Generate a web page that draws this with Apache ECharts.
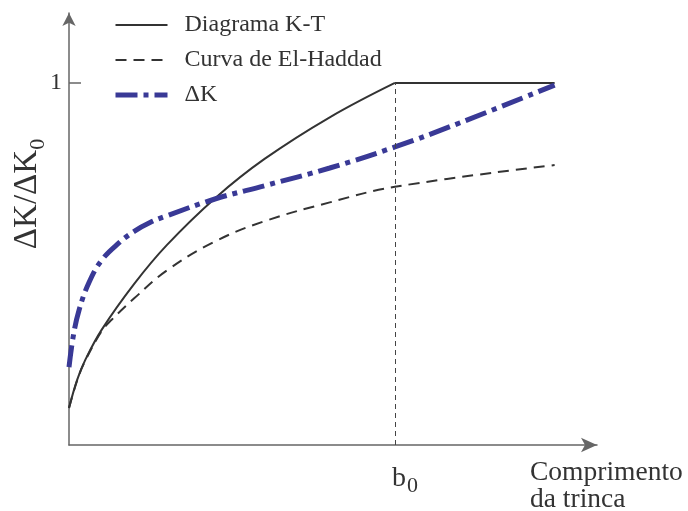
<!DOCTYPE html>
<html>
<head>
<meta charset="utf-8">
<script src="https://cdn.jsdelivr.net/npm/echarts@6/dist/echarts.min.js"></script>
<style>
  html, body { margin: 0; padding: 0; background: #fff; }
  #chart { width: 688px; height: 511px; }
</style>
</head>
<body>
<div id="chart"></div>
<script>
// dados (x em unidades de b0, y em ΔK/ΔK0)
var ktX = [0, 0.025, 0.05, 0.1, 0.2, 0.3, 0.45, 0.6, 0.8, 1.0];
var ktY = [0.102, 0.180, 0.235, 0.318, 0.445, 0.552, 0.683, 0.790, 0.905, 1.0];
var ktFlatX = [1.0, 1.49];
var ktFlatY = [1.0, 1.0];

var elX = [0, 0.025, 0.05, 0.1, 0.13, 0.2, 0.3, 0.45, 0.6, 0.8, 1.0, 1.49];
var elY = [0.102, 0.178, 0.233, 0.314, 0.345, 0.405, 0.482, 0.563, 0.618, 0.670, 0.713, 0.773];

var dkX = [0, 0.013, 0.031, 0.061, 0.1, 0.153, 0.2, 0.25, 0.3, 0.45, 0.6, 0.8, 1.0, 1.2, 1.49];
var dkY = [0.215, 0.300, 0.373, 0.448, 0.510, 0.558, 0.590, 0.615, 0.633, 0.680, 0.716, 0.765, 0.823, 0.890, 0.994];

var b0 = 1;
var yTicks = [1];

function pares(xs, ys) {
    return xs.map(function (x, i) { return [x, ys[i]]; });
}

var serif = 'Liberation Serif';
var myChart = echarts.init(document.getElementById('chart'));

var option = {
    animation: false,
    textStyle: { fontFamily: serif },
    grid: { left: 69, right: 91, top: 13, bottom: 66 },
    legend: {
        orient: 'vertical',
        left: 113,
        top: 13,
        padding: 0,
        itemWidth: 52,
        itemHeight: 14,
        itemGap: 11,
        data: ['Diagrama K-T', 'Curva de El-Haddad', 'ΔK'],
        itemStyle: { opacity: 0 },
        lineStyle: { width: 'inherit' },
        textStyle: { fontFamily: serif, fontSize: 24, color: '#333', padding: [0, 0, 0, 12] }
    },
    xAxis: {
        type: 'value',
        min: 0,
        max: 1.62,
        splitLine: { show: false },
        axisLine: {
            lineStyle: { color: '#666', width: 1.5 },
            symbol: ['none', 'arrow'],
            symbolSize: [11, 16]
        },
        axisTick: { show: false },
        axisLabel: {
            customValues: [b0],
            margin: 20,
            formatter: function () { return '{b|b}{s|0}'; },
            rich: {
                b: { fontFamily: serif, fontSize: 28, color: '#333', verticalAlign: 'top', padding: [0, 0, 0, 20] },
                s: { fontFamily: serif, fontSize: 22, color: '#333', verticalAlign: 'top', padding: [10, 0, 0, 1] }
            }
        }
    },
    yAxis: {
        type: 'value',
        min: 0,
        max: 1.193,
        splitLine: { show: false },
        axisLine: {
            lineStyle: { color: '#666', width: 1.5 },
            symbol: ['none', 'arrow'],
            symbolSize: [10, 13]
        },
        axisTick: { show: true, inside: true, length: 12, customValues: yTicks, lineStyle: { color: '#666', width: 1.5 } },
        axisLabel: { customValues: yTicks, margin: 7, fontFamily: serif, fontSize: 24, color: '#333' }
    },
    graphic: [
        {
            type: 'text',
            x: 30,
            y: 194,
            rotation: Math.PI / 2,
            style: {
                text: '{a|ΔK/ΔK}{s|0}',
                align: 'center',
                verticalAlign: 'middle',
                rich: {
                    a: { fontFamily: serif, fontSize: 33, fill: '#333', verticalAlign: 'top' },
                    s: { fontFamily: serif, fontSize: 22, fill: '#333', verticalAlign: 'top', padding: [16, 0, 0, 0] }
                }
            }
        },
        {
            type: 'text',
            x: 530,
            y: 459,
            style: {
                text: 'Comprimento\nda trinca',
                fontFamily: serif,
                fontSize: 27.5,
                lineHeight: 27,
                fill: '#333'
            }
        }
    ],
    series: [
        {
            name: 'Diagrama K-T',
            type: 'line',
            smooth: 0.4,
            symbol: 'none',
            lineStyle: { color: '#333', width: 2, type: 'solid' },
            itemStyle: { color: '#333' },
            data: pares(ktX, ktY),
            markLine: {
                silent: true,
                symbol: 'none',
                label: { show: false },
                lineStyle: { color: '#444', width: 1, type: [5, 4] },
                data: [[{ coord: [b0, 0] }, { coord: [b0, 1] }]]
            }
        },
        {
            name: 'Diagrama K-T',
            type: 'line',
            symbol: 'none',
            lineStyle: { color: '#333', width: 2, type: 'solid' },
            itemStyle: { color: '#333' },
            data: pares(ktFlatX, ktFlatY)
        },
        {
            name: 'Curva de El-Haddad',
            type: 'line',
            smooth: 0.4,
            symbol: 'none',
            lineStyle: { color: '#333', width: 2, type: [11, 7] },
            itemStyle: { color: '#333' },
            data: pares(elX, elY)
        },
        {
            name: 'ΔK',
            type: 'line',
            smooth: 0.4,
            symbol: 'none',
            lineStyle: { color: '#393996', width: 5, type: [22, 6, 5, 6] },
            itemStyle: { color: '#393996' },
            data: pares(dkX, dkY)
        }
    ]
};

myChart.setOption(option);
</script>
</body>
</html>
